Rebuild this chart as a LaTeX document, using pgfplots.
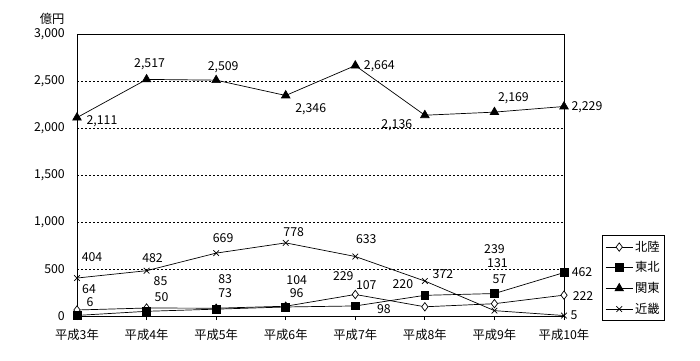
\documentclass[border=0pt]{standalone}
\usepackage{fontspec}
\setmainfont{Noto Sans CJK JP}
\usepackage{pgfplots}
\pgfplotsset{compat=1.18}
\usepackage{pgfplotstable}

% columns: x, value, label offset dx, dy (pt)
\pgfplotstableread{
x y dx dy
0 64 12 21
1 85 14 27
2 83 9 29
3 104 11 26
4 229 -12 18
5 98 -41 -2
6 131 3 41
7 222 19 -1
}\hokuriku
\pgfplotstableread{
x y dx dy
0 6 13 13
1 50 15 14
2 73 9 16
3 96 11 14
4 107 11 21
5 220 -22 11
6 239 0 44
7 462 18 0
}\tohoku
\pgfplotstableread{
x y dx dy
0 2111 25 -4
1 2517 3 15
2 2509 7 13
3 2346 25 -14
4 2664 24 -1
5 2136 -28 -10
6 2169 19 14
7 2229 23 -1
}\kanto
\pgfplotstableread{
x y dx dy
0 404 15 21
1 482 6 13
2 669 7 15
3 778 8 11
4 633 11 17
5 372 18 7
6 57 5 31
7 5 10 0
}\kinki

\begin{document}
\fontsize{12.3}{14}\selectfont
\begin{tikzpicture}
\path[use as bounding box] (0,0) rectangle (700pt,360pt);
\begin{axis}[
  at={(77pt,44pt)}, anchor=south west,
  scale only axis, width=487pt, height=282pt,
  xmin=0, xmax=7, ymin=0, ymax=3000,
  clip=false,
  xtick={0,...,7},
  xticklabels={平成3年,平成4年,平成5年,平成6年,平成7年,平成8年,平成9年,平成10年},
  ytick={0,500,...,3000},
  /pgf/number format/assume math mode=true,
  /pgf/number format/1000 sep={,},
  xtick pos=bottom, xtick align=outside, major tick length=4pt,
  ytick style={draw=none},
  ymajorgrids,
  major grid style={black, line width=0.6pt, dash pattern=on 2pt off 2pt},
  axis line style={black, line width=0.8pt},
  yticklabel style={inner sep=0pt, xshift=-12pt, anchor=east},
  xticklabel style={inner sep=0pt, yshift=-9pt},
  tick style={black, line width=0.8pt},
  legend style={at={(1.078,0.287)}, anchor=north west, draw=black, line width=0.8pt,
    font=\fontsize{12.3}{14}\selectfont, row sep=4.5pt, inner xsep=3pt, inner ysep=3.5pt},
  legend cell align=left,
  legend image code/.code={\draw[mark repeat=2,mark phase=2] plot coordinates {(0pt,0pt)(13.5pt,0pt)(27pt,0pt)};},
  every axis plot/.append style={black, line width=0.7pt, mark options={solid}},
  nodes near coords={\pgfmathprintnumber{\pgfplotspointmeta}},
  visualization depends on={\thisrow{dx}\as\dx},
  visualization depends on={\thisrow{dy}\as\dy},
  nodes near coords style={anchor=center, inner sep=0pt, xshift=\dx*1pt, yshift=\dy*1pt, black},
]
\addplot[mark=diamond*, mark size=4.2pt, mark options={fill=white, line width=0.7pt}] table[x=x, y=y, meta=y] {\hokuriku};
\addlegendentry{北陸}
\addplot[mark=square*, mark size=3.9pt, mark options={fill=black}] table[x=x, y=y, meta=y] {\tohoku};
\addlegendentry{東北}
\addplot[mark=triangle*, mark size=4.9pt, mark options={fill=black}] table[x=x, y=y, meta=y] {\kanto};
\addlegendentry{関東}
\addplot[mark=x, mark size=4pt] table[x=x, y=y, meta=y] {\kinki};
\addlegendentry{近畿}
\node at (rel axis cs:-0.051,1.052) {億円};
\end{axis}
\end{tikzpicture}
\end{document}
